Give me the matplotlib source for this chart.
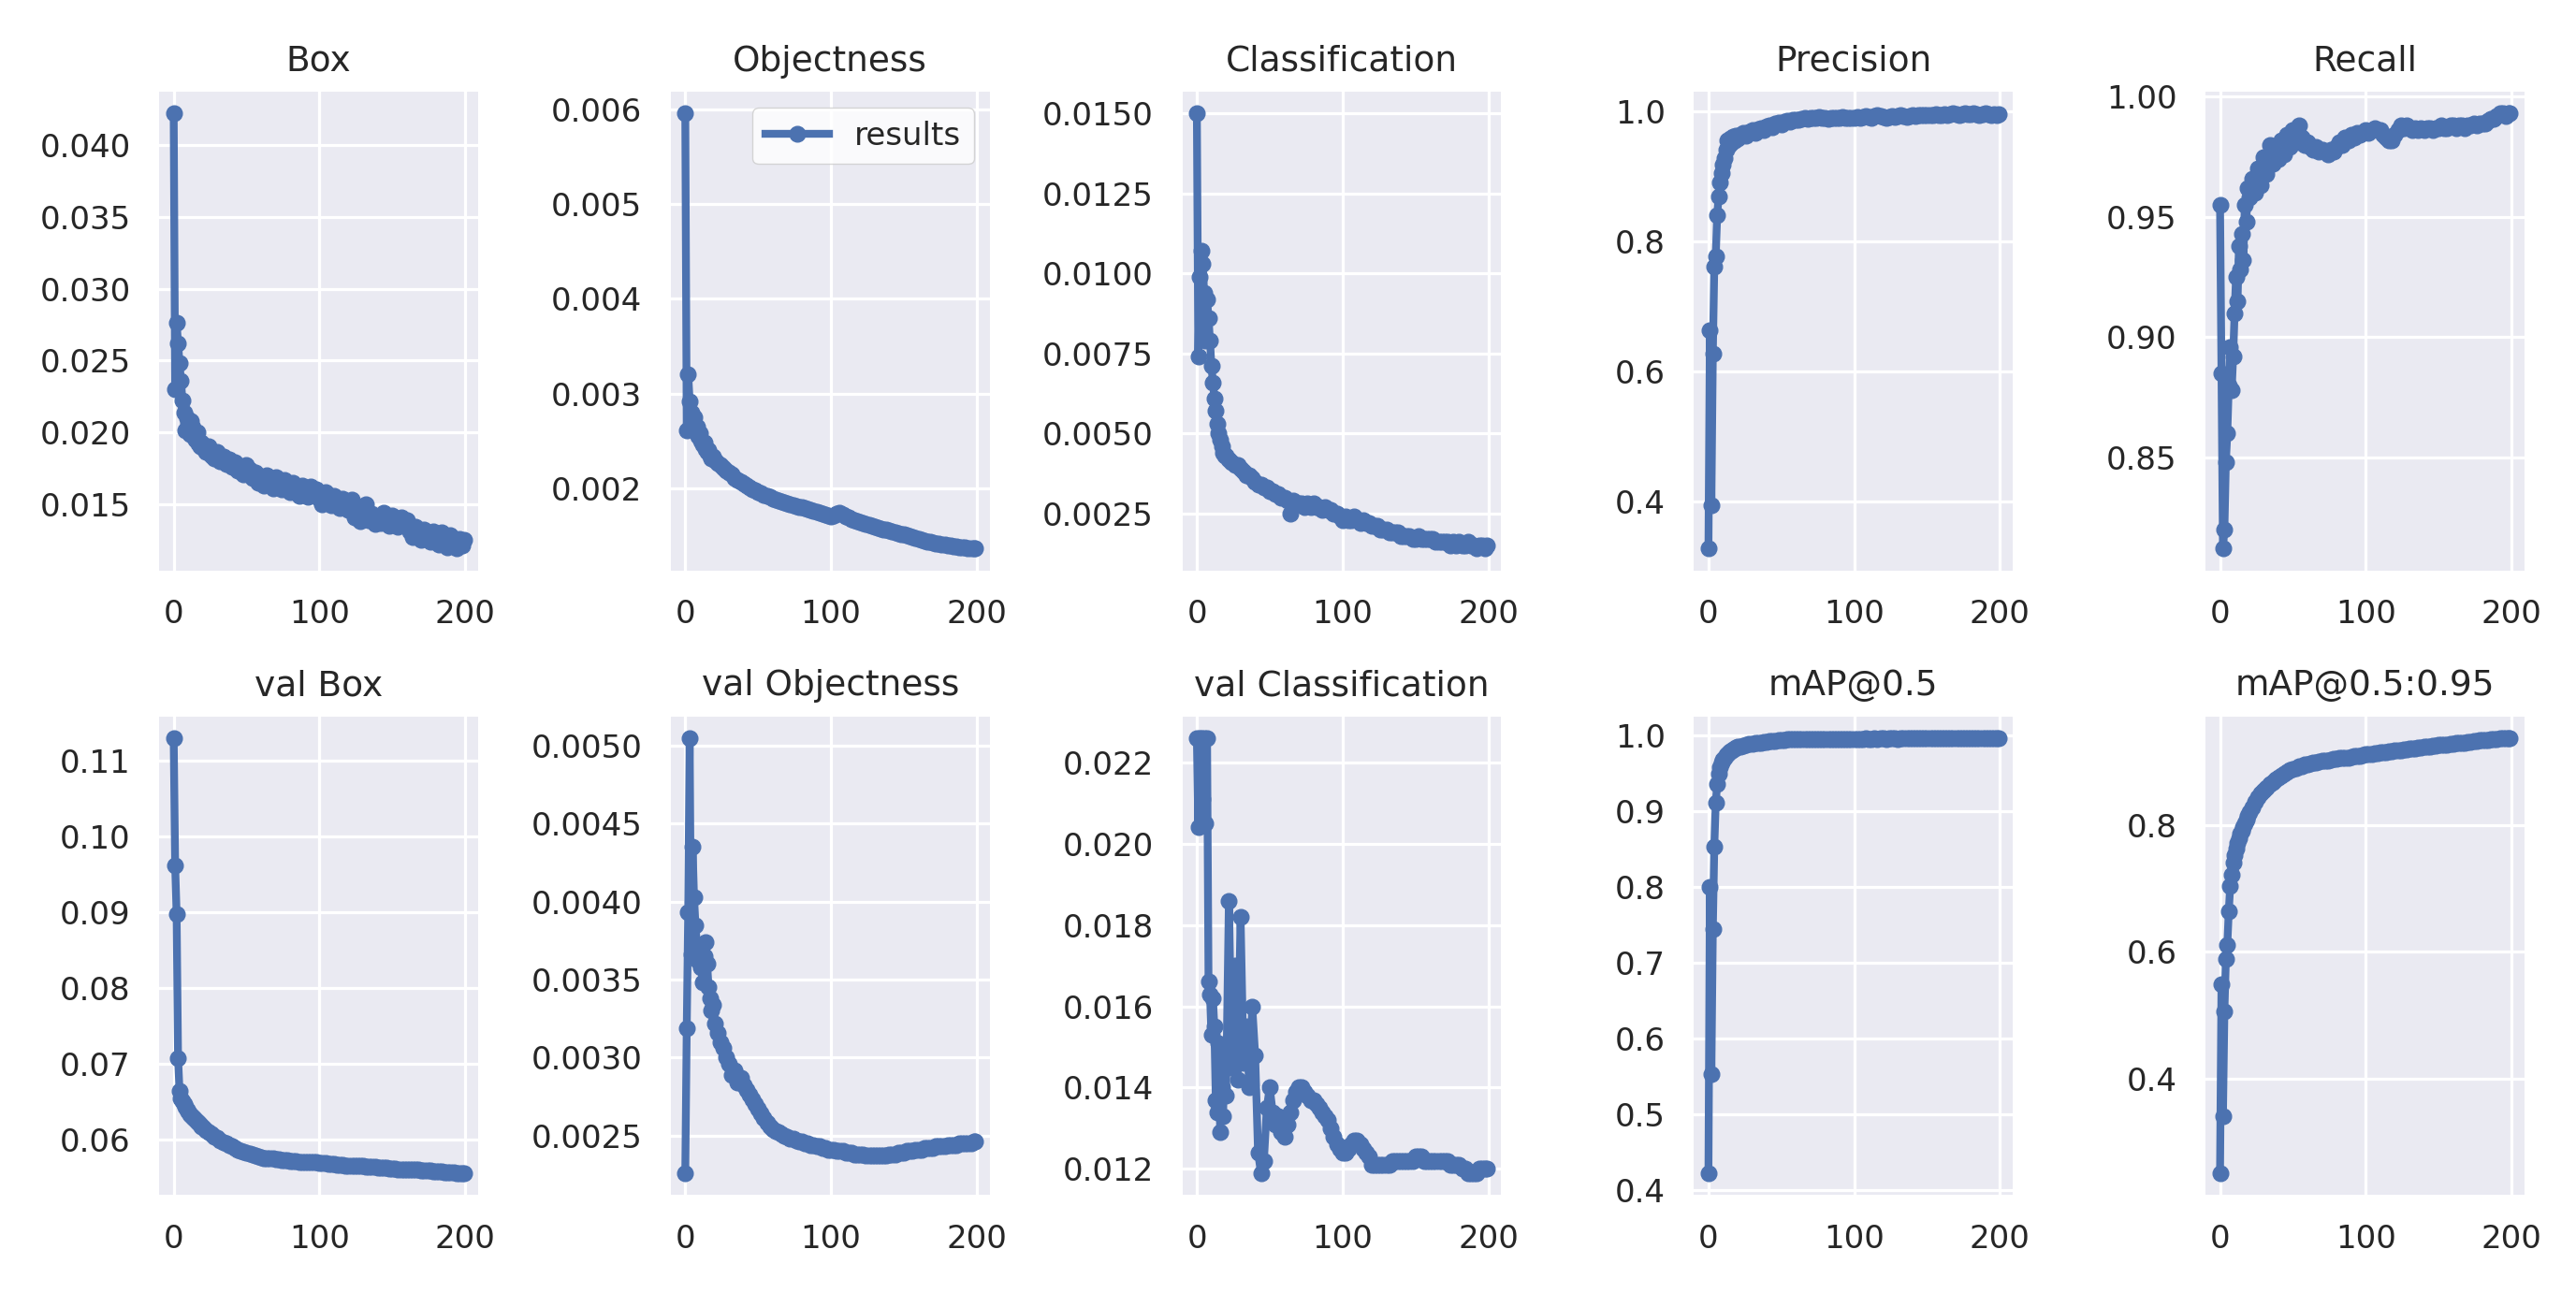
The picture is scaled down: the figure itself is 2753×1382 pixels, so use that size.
import matplotlib
matplotlib.use("Agg")
import matplotlib.pyplot as plt

# epochs shown (every epoch at the start, every 2nd epoch afterwards)
epochs = list(range(0, 20)) + list(range(20, 200, 2)) + [199]

titles = ["Box", "Objectness", "Classification", "Precision", "Recall",
          "val Box", "val Objectness", "val Classification", "mAP@0.5", "mAP@0.5:0.95"]

box_loss = [0.0422, 0.0230, 0.0276, 0.0262, 0.0248, 0.0236, 0.0222, 0.0214, 0.0201, 0.0210,
            0.0206, 0.0199, 0.0208, 0.0203, 0.0197, 0.0195, 0.0200, 0.0192, 0.0190, 0.0193,
            0.0189, 0.0186, 0.0190, 0.0184, 0.0182, 0.0186, 0.0180, 0.0183, 0.0178, 0.0181,
            0.0176, 0.0179, 0.0173, 0.0175, 0.0171, 0.0177, 0.0174, 0.0168, 0.0172, 0.0165,
            0.0168, 0.0163, 0.0170, 0.0166, 0.0161, 0.0169, 0.0164, 0.0160, 0.0167, 0.0162,
            0.0158, 0.0165, 0.0161, 0.0156, 0.0163, 0.0159, 0.0155, 0.0162, 0.0157, 0.0160,
            0.0154, 0.0150, 0.0158, 0.0153, 0.0149, 0.0156, 0.0151, 0.0147, 0.0154, 0.0150,
            0.0146, 0.0153, 0.0141, 0.0148, 0.0138, 0.0145, 0.0150, 0.0139, 0.0143, 0.0136,
            0.0141, 0.0137, 0.0144, 0.0139, 0.0135, 0.0142, 0.0138, 0.0134, 0.0141, 0.0136,
            0.0139, 0.0131, 0.0127, 0.0134, 0.0129, 0.0125, 0.0132, 0.0128, 0.0124, 0.0131,
            0.0127, 0.0122, 0.0130, 0.0125, 0.0120, 0.0128, 0.0123, 0.0119, 0.0126, 0.0121,
            0.0125]

obj_loss = [0.00596, 0.00261, 0.00320, 0.00292, 0.00280, 0.00270, 0.00275, 0.00262, 0.00265, 0.00255,
            0.00258, 0.00250, 0.00246, 0.00248, 0.00241, 0.00238, 0.00240, 0.00234, 0.00231, 0.00233,
            0.00229, 0.00226, 0.00224, 0.00221, 0.00218, 0.00216, 0.00214, 0.00211, 0.00209, 0.00207,
            0.00205, 0.00203, 0.00201, 0.00199, 0.00198, 0.00196, 0.00195, 0.00193, 0.00192, 0.00191,
            0.00189, 0.00188, 0.00187, 0.00186, 0.00185, 0.00184, 0.00183, 0.00182, 0.00181, 0.00180,
            0.00180, 0.00179, 0.00178, 0.00177, 0.00176, 0.00175, 0.00174, 0.00173, 0.00172, 0.00171,
            0.00170, 0.00171, 0.00173, 0.00174, 0.00172, 0.00170, 0.00169, 0.00167, 0.00166, 0.00165,
            0.00164, 0.00163, 0.00162, 0.00161, 0.00160, 0.00159, 0.00158, 0.00157, 0.00156, 0.00156,
            0.00155, 0.00154, 0.00153, 0.00152, 0.00151, 0.00151, 0.00150, 0.00149, 0.00148, 0.00147,
            0.00146, 0.00145, 0.00144, 0.00143, 0.00143, 0.00142, 0.00141, 0.00141, 0.00140, 0.00140,
            0.00139, 0.00139, 0.00138, 0.00138, 0.00137, 0.00137, 0.00137, 0.00136, 0.00136, 0.00136,
            0.00136]

cls_loss = [0.0150, 0.0074, 0.0099, 0.0107, 0.0103, 0.0094, 0.0079, 0.0092, 0.0086, 0.0079,
            0.0071, 0.0066, 0.0061, 0.0057, 0.0053, 0.0050, 0.0048, 0.0046, 0.0044, 0.0043,
            0.0043, 0.0042, 0.0041, 0.0040, 0.0040, 0.0039, 0.0038, 0.0037, 0.0037, 0.0036,
            0.0035, 0.0034, 0.0034, 0.0033, 0.0033, 0.0032, 0.0032, 0.0031, 0.0031, 0.0030,
            0.0030, 0.0029, 0.0025, 0.0029, 0.0028, 0.0028, 0.0028, 0.0027, 0.0028, 0.0027,
            0.0028, 0.0027, 0.0027, 0.0026, 0.0027, 0.0026, 0.0026, 0.0025, 0.0025, 0.0024,
            0.0023, 0.0024, 0.0023, 0.0023, 0.0024, 0.0023, 0.0022, 0.0023, 0.0022, 0.0022,
            0.0021, 0.0021, 0.0021, 0.0020, 0.0020, 0.0020, 0.0019, 0.0019, 0.0019, 0.0019,
            0.0018, 0.0018, 0.0018, 0.0018, 0.0017, 0.0017, 0.0018, 0.0017, 0.0017, 0.0017,
            0.0017, 0.0017, 0.0016, 0.0016, 0.0016, 0.0016, 0.0016, 0.0015, 0.0016, 0.0015,
            0.0016, 0.0015, 0.0015, 0.0016, 0.0015, 0.0015, 0.0014, 0.0015, 0.0015, 0.0014,
            0.0015]

precision = [0.327, 0.662, 0.394, 0.627, 0.760, 0.777, 0.840, 0.868, 0.890, 0.905,
             0.918, 0.927, 0.940, 0.955, 0.948, 0.957, 0.952, 0.960, 0.955, 0.962,
             0.958, 0.963, 0.966, 0.962, 0.968, 0.970, 0.966, 0.972, 0.974, 0.971,
             0.976, 0.978, 0.975, 0.980, 0.982, 0.979, 0.984, 0.985, 0.983, 0.986,
             0.987, 0.986, 0.988, 0.989, 0.988, 0.990, 0.989, 0.990, 0.991, 0.990,
             0.989, 0.988, 0.989, 0.990, 0.989, 0.990, 0.991, 0.990, 0.989, 0.990,
             0.990, 0.991, 0.990, 0.991, 0.992, 0.991, 0.990, 0.992, 0.993, 0.992,
             0.991, 0.990, 0.991, 0.992, 0.991, 0.992, 0.993, 0.992, 0.991, 0.992,
             0.993, 0.992, 0.993, 0.994, 0.993, 0.994, 0.993, 0.994, 0.995, 0.994,
             0.994, 0.995, 0.994, 0.995, 0.996, 0.995, 0.994, 0.995, 0.996, 0.995,
             0.995, 0.996, 0.995, 0.994, 0.995, 0.996, 0.995, 0.994, 0.995, 0.994,
             0.995]

recall = [0.955, 0.885, 0.812, 0.820, 0.848, 0.860, 0.880, 0.896, 0.878, 0.892,
          0.910, 0.925, 0.915, 0.938, 0.928, 0.943, 0.932, 0.955, 0.948, 0.962,
          0.958, 0.966, 0.960, 0.970, 0.963, 0.975, 0.968, 0.980, 0.972, 0.978,
          0.974, 0.982, 0.976, 0.984, 0.979, 0.986, 0.981, 0.988, 0.983, 0.980,
          0.981, 0.979, 0.978, 0.979, 0.977, 0.978, 0.977, 0.976, 0.978, 0.977,
          0.979, 0.981, 0.980, 0.983, 0.982, 0.984, 0.983, 0.985, 0.984, 0.985,
          0.986, 0.985, 0.986, 0.987, 0.986, 0.986, 0.984, 0.983, 0.982, 0.982,
          0.984, 0.986, 0.988, 0.987, 0.988, 0.987, 0.986, 0.987, 0.986, 0.987,
          0.986, 0.987, 0.987, 0.986, 0.987, 0.987, 0.988, 0.987, 0.987, 0.988,
          0.988, 0.987, 0.988, 0.988, 0.987, 0.988, 0.988, 0.989, 0.988, 0.989,
          0.989, 0.989, 0.990, 0.991, 0.991, 0.992, 0.993, 0.993, 0.992, 0.993,
          0.993]

val_box = [0.1130, 0.0962, 0.0898, 0.0708, 0.0664, 0.0655, 0.0651, 0.0647, 0.0643, 0.0640,
           0.0637, 0.0634, 0.0632, 0.0630, 0.0628, 0.0626, 0.0624, 0.0622, 0.0620, 0.0618,
           0.0616, 0.0613, 0.0610, 0.0607, 0.0604, 0.0602, 0.0599, 0.0597, 0.0595, 0.0593,
           0.0591, 0.0589, 0.0587, 0.0585, 0.0584, 0.0583, 0.0581, 0.0580, 0.0579, 0.0578,
           0.0577, 0.0576, 0.0576, 0.0575, 0.0575, 0.0574, 0.0574, 0.0573, 0.0573, 0.0573,
           0.0572, 0.0572, 0.0572, 0.0571, 0.0571, 0.0571, 0.0570, 0.0570, 0.0570, 0.0570,
           0.0569, 0.0569, 0.0569, 0.0568, 0.0568, 0.0568, 0.0567, 0.0567, 0.0567, 0.0566,
           0.0566, 0.0566, 0.0566, 0.0565, 0.0565, 0.0565, 0.0564, 0.0564, 0.0564, 0.0564,
           0.0563, 0.0563, 0.0563, 0.0563, 0.0562, 0.0562, 0.0562, 0.0561, 0.0561, 0.0561,
           0.0561, 0.0560, 0.0560, 0.0560, 0.0560, 0.0559, 0.0559, 0.0559, 0.0559, 0.0558,
           0.0558, 0.0558, 0.0558, 0.0557, 0.0557, 0.0557, 0.0557, 0.0556, 0.0556, 0.0556,
           0.0556]

val_obj = [0.00226, 0.00319, 0.00393, 0.00505, 0.00366, 0.00435, 0.00403, 0.00385, 0.00372, 0.00362,
           0.00370, 0.00358, 0.00348, 0.00365, 0.00374, 0.00360, 0.00345, 0.00338, 0.00330, 0.00334,
           0.00322, 0.00316, 0.00310, 0.00306, 0.00300, 0.00296, 0.00289, 0.00292, 0.00284, 0.00287,
           0.00282, 0.00279, 0.00276, 0.00273, 0.00270, 0.00267, 0.00264, 0.00261, 0.00258, 0.00256,
           0.00254, 0.00253, 0.00252, 0.00251, 0.00250, 0.00249, 0.00248, 0.00248, 0.00247, 0.00246,
           0.00246, 0.00245, 0.00245, 0.00244, 0.00244, 0.00243, 0.00243, 0.00242, 0.00242, 0.00241,
           0.00241, 0.00241, 0.00240, 0.00240, 0.00240, 0.00239, 0.00239, 0.00239, 0.00238, 0.00238,
           0.00238, 0.00238, 0.00237, 0.00237, 0.00237, 0.00237, 0.00237, 0.00237, 0.00237, 0.00237,
           0.00238, 0.00238, 0.00238, 0.00239, 0.00239, 0.00239, 0.00240, 0.00240, 0.00240, 0.00241,
           0.00241, 0.00241, 0.00242, 0.00242, 0.00242, 0.00242, 0.00243, 0.00243, 0.00243, 0.00243,
           0.00244, 0.00244, 0.00244, 0.00244, 0.00245, 0.00245, 0.00245, 0.00245, 0.00245, 0.00246,
           0.00246]

val_cls = [0.0226, 0.0204, 0.0226, 0.0226, 0.0211, 0.0226, 0.0205, 0.0226, 0.0166, 0.0163,
           0.0153, 0.0162, 0.0155, 0.0137, 0.0134, 0.0151, 0.0129, 0.0140, 0.0133, 0.0150,
           0.0138, 0.0186, 0.0145, 0.0170, 0.0142, 0.0182, 0.0146, 0.0155, 0.0140, 0.0160,
           0.0148, 0.0124, 0.0119, 0.0122, 0.0135, 0.0140, 0.0134, 0.0131, 0.0133, 0.0129,
           0.0128, 0.0131, 0.0134, 0.0137, 0.0139, 0.0140, 0.0140, 0.0139, 0.0138, 0.0137,
           0.0137, 0.0136, 0.0135, 0.0134, 0.0133, 0.0132, 0.0130, 0.0128, 0.0126, 0.0125,
           0.0124, 0.0124, 0.0125, 0.0126, 0.0127, 0.0127, 0.0126, 0.0125, 0.0124, 0.0123,
           0.0121, 0.0121, 0.0121, 0.0121, 0.0121, 0.0121, 0.0121, 0.0122, 0.0122, 0.0122,
           0.0122, 0.0122, 0.0122, 0.0122, 0.0122, 0.0123, 0.0123, 0.0123, 0.0122, 0.0122,
           0.0122, 0.0122, 0.0122, 0.0122, 0.0122, 0.0122, 0.0122, 0.0121, 0.0121, 0.0121,
           0.0121, 0.0120, 0.0120, 0.0119, 0.0119, 0.0119, 0.0119, 0.0120, 0.0120, 0.0120,
           0.0120]

map50 = [0.422, 0.800, 0.553, 0.744, 0.853, 0.911, 0.936, 0.950, 0.958, 0.964,
         0.968, 0.971, 0.974, 0.976, 0.978, 0.979, 0.981, 0.982, 0.983, 0.984,
         0.985, 0.986, 0.987, 0.988, 0.989, 0.989, 0.990, 0.991, 0.991, 0.992,
         0.992, 0.993, 0.993, 0.993, 0.994, 0.994, 0.994, 0.995, 0.995, 0.995,
         0.995, 0.995, 0.996, 0.996, 0.996, 0.996, 0.996, 0.996, 0.996, 0.996,
         0.996, 0.996, 0.996, 0.996, 0.996, 0.996, 0.996, 0.996, 0.996, 0.996,
         0.996, 0.996, 0.996, 0.996, 0.997, 0.996, 0.996, 0.997, 0.996, 0.997,
         0.997, 0.996, 0.997, 0.997, 0.997, 0.996, 0.997, 0.997, 0.997, 0.997,
         0.997, 0.997, 0.997, 0.997, 0.997, 0.997, 0.997, 0.997, 0.997, 0.997,
         0.997, 0.997, 0.997, 0.997, 0.997, 0.997, 0.997, 0.997, 0.997, 0.997,
         0.997, 0.997, 0.997, 0.997, 0.997, 0.997, 0.997, 0.997, 0.997, 0.997,
         0.997]

map50_95 = [0.251, 0.549, 0.340, 0.506, 0.588, 0.611, 0.664, 0.704, 0.722, 0.740,
            0.752, 0.763, 0.771, 0.779, 0.786, 0.791, 0.797, 0.803, 0.809, 0.814,
            0.820, 0.828, 0.836, 0.843, 0.849, 0.854, 0.859, 0.864, 0.868, 0.872,
            0.875, 0.878, 0.881, 0.883, 0.886, 0.888, 0.890, 0.892, 0.893, 0.895,
            0.896, 0.897, 0.898, 0.899, 0.900, 0.901, 0.902, 0.902, 0.903, 0.904,
            0.904, 0.905, 0.905, 0.906, 0.906, 0.907, 0.908, 0.908, 0.909, 0.910,
            0.911, 0.911, 0.912, 0.913, 0.913, 0.914, 0.915, 0.915, 0.916, 0.916,
            0.917, 0.918, 0.918, 0.919, 0.919, 0.920, 0.921, 0.921, 0.922, 0.922,
            0.923, 0.923, 0.924, 0.925, 0.925, 0.926, 0.926, 0.927, 0.927, 0.928,
            0.928, 0.929, 0.929, 0.930, 0.930, 0.931, 0.931, 0.932, 0.932, 0.933,
            0.933, 0.934, 0.934, 0.935, 0.935, 0.935, 0.936, 0.936, 0.937, 0.937,
            0.937]

series = [box_loss, obj_loss, cls_loss, precision, recall,
          val_box, val_obj, val_cls, map50, map50_95]

text_color = "#262626"
line_color = "#4C72B0"

fig, axs = plt.subplots(2, 5, figsize=(27.53, 13.82), dpi=100)
fig.subplots_adjust(left=0.0618, right=0.980, bottom=0.076, top=0.929,
                    wspace=0.604, hspace=0.305)

for ax, values, title in zip(axs.ravel(), series, titles):
    # fondo estilo seaborn darkgrid
    ax.set_facecolor("#EAEAF2")
    ax.grid(True, color="white", linewidth=2.3)
    ax.set_axisbelow(True)
    for spine in ax.spines.values():
        spine.set_visible(False)

    ax.plot(epochs, values, marker=".", color=line_color, linewidth=6,
            markersize=24, label="results")
    ax.set_title(title, fontsize=27, color=text_color, pad=16)
    ax.tick_params(length=0, pad=22, labelsize=24.5, labelcolor=text_color)

leg = axs[0, 1].legend(loc="upper right", fontsize=24.5)
for t in leg.get_texts():
    t.set_color(text_color)

fig.savefig("out.png", dpi=100)
